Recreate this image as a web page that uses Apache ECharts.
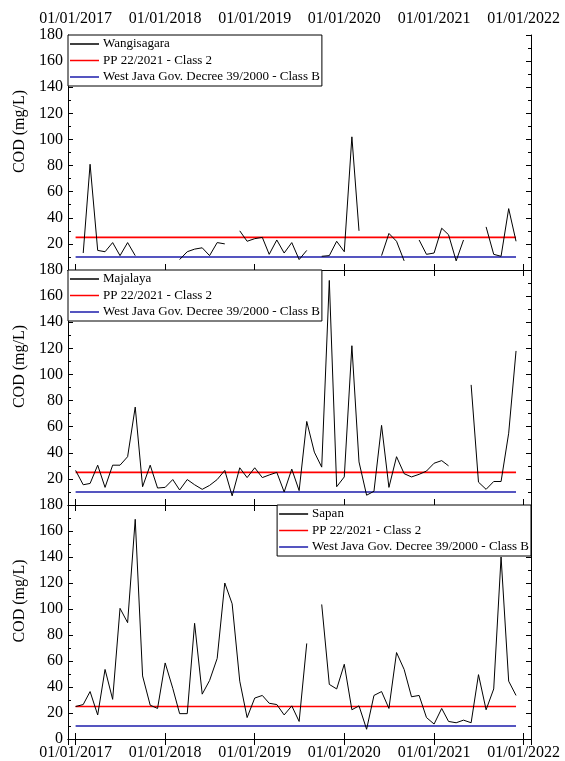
<!DOCTYPE html>
<html>
<head>
<meta charset="utf-8">
<script src="https://cdn.jsdelivr.net/npm/echarts@6/dist/echarts.min.js"></script>
<style>
  html, body { margin: 0; padding: 0; background: #fff; }
  #chart { width: 565px; height: 761px; }
</style>
</head>
<body>
<div id="chart"></div>
<script>
// Monthly sampling dates, Jan 2017 – Dec 2021
const months = [
  '2017-01-01','2017-02-01','2017-03-01','2017-04-01','2017-05-01','2017-06-01','2017-07-01','2017-08-01','2017-09-01','2017-10-01','2017-11-01','2017-12-01',
  '2018-01-01','2018-02-01','2018-03-01','2018-04-01','2018-05-01','2018-06-01','2018-07-01','2018-08-01','2018-09-01','2018-10-01','2018-11-01','2018-12-01',
  '2019-01-01','2019-02-01','2019-03-01','2019-04-01','2019-05-01','2019-06-01','2019-07-01','2019-08-01','2019-09-01','2019-10-01','2019-11-01','2019-12-01',
  '2020-01-01','2020-02-01','2020-03-01','2020-04-01','2020-05-01','2020-06-01','2020-07-01','2020-08-01','2020-09-01','2020-10-01','2020-11-01','2020-12-01',
  '2021-01-01','2021-02-01','2021-03-01','2021-04-01','2021-05-01','2021-06-01','2021-07-01','2021-08-01','2021-09-01','2021-10-01','2021-11-01','2021-12-01'
];

// COD (mg/L) per station; null = no sample
const wangisagara = [
  null, 13, 81, 15, 14, 21, 11, 21, 11, null, null, null,
  null, null, 8, 14, 16, 17, 11, 21, 20, null, 30, 22,
  24, 25, 12, 23, 13, 21, 8, 15, null, 10.5, 11, 22,
  14, 102, 30, null, null, 11, 28, 22, 7, null, 23, 12,
  13, 32, 27, 7, 23, null, null, 33, 12, 10.5, 47, 22
];
const majalaya = [
  26.5, 15.5, 16.5, 30.5, 13.5, 30.5, 30.5, 37, 75, 14, 30.5, 13,
  13.5, 19.5, 11.5, 19.5, 15.5, 12, 15, 19.5, 26.5, 7, 28.5, 21,
  28.5, 21, 23, 25, 10, 27.5, 11, 64, 40.5, 29, 172, 14,
  21.5, 122, 33, 7.5, 10.5, 61, 13.5, 37, 24, 21.5, 23.5, 26,
  32, 34, 30, null, null, 92, 17.5, 12, 18, 18, 55, 118
];
const sapan = [
  25, 26.5, 36.5, 18.5, 53.5, 30.5, 100.5, 89.5, 169, 48.5, 26, 23.5,
  58.5, 39, 19.5, 19.5, 89, 34.5, 45, 62, 120, 104, 44.5, 16.5,
  31.5, 33.5, 27.5, 26.5, 18.5, 25.5, 13.5, 73.5, null, 103.5, 42, 38.5,
  57.5, 22.5, 25.5, 7.5, 33.5, 36.5, 23.5, 66.5, 53.5, 32.5, 33.5, 16.5,
  11.5, 23.5, 13.5, 12.5, 14.5, 12.5, 49.5, 22.5, 38.5, 140, 44.5, 33.5
];

// Quality standards (mg/L) and the period they are drawn over
const stdPeriod = ['2017-01-01', '2021-12-01'];
const stdClass2 = 25;   // PP 22/2021 - Class 2
const stdClassB = 10;   // West Java Gov. Decree 39/2000 - Class B

const stations = ['Wangisagara', 'Majalaya', 'Sapan'];
const stationValues = [wangisagara, majalaya, sapan];
const nameClass2 = 'PP 22/2021 - Class 2';
const nameClassB = 'West Java Gov. Decree 39/2000 - Class B';

const FONT = 'Liberation Serif';
const gridTops = [35, 270, 505];
const gridH = 235;
const xMin = new Date(2016, 11, 1).getTime();
const xMax = new Date(2022, 0, 31).getTime();
const DAY = 86400000;

function pad2(n) { return (n < 10 ? '0' : '') + n; }
function fmtDate(v) {
  const d = new Date(v);
  return pad2(d.getDate()) + '/' + pad2(d.getMonth() + 1) + '/' + d.getFullYear();
}

const grids = [], xAxes = [], yAxes = [], series = [], legends = [];

gridTops.forEach((top, g) => {
  grids.push({ left: 68, right: 34, top: top, height: gridH, containLabel: false });

  ['bottom', 'top'].forEach(pos => {
    const showLabel = (pos === 'bottom' && g === 2) || (pos === 'top' && g === 0);
    xAxes.push({
      type: 'time', gridIndex: g, position: pos,
      min: xMin, max: xMax,
      minInterval: 365 * DAY, maxInterval: 366 * DAY,
      axisLine: { show: true, lineStyle: { color: '#000', width: 1 } },
      axisTick: { show: true, inside: true, length: 6, lineStyle: { color: '#000' } },
      minorTick: { show: false },
      splitLine: { show: false },
      axisLabel: {
        show: showLabel, color: '#000', fontFamily: FONT, fontSize: 16,
        margin: pos === 'top' ? 8 : 6,
        formatter: v => fmtDate(v)
      }
    });
  });

  ['left', 'right'].forEach(pos => {
    const y = {
      type: 'value', gridIndex: g, position: pos,
      min: 0, max: 180, interval: 20,
      axisLine: { show: true, lineStyle: { color: '#000', width: 1 } },
      axisTick: { show: true, inside: true, length: 5, lineStyle: { color: '#000' } },
      minorTick: { show: true, splitNumber: 2, length: 3, lineStyle: { color: '#000' } },
      splitLine: { show: false },
      axisLabel: {
        show: pos === 'left', color: '#000', fontFamily: FONT, fontSize: 16, margin: 5,
        showMinLabel: g === 2
      }
    };
    if (pos === 'left') {
      y.name = 'COD (mg/L)';
      y.nameLocation = 'middle';
      y.nameGap = 33;
      y.nameTextStyle = { color: '#000', fontFamily: FONT, fontSize: 16, padding: [0, 0, 0, 42] };
    }
    yAxes.push(y);
  });

  const xi = g * 2, yi = g * 2;
  series.push({
    name: stations[g], type: 'line', xAxisIndex: xi, yAxisIndex: yi,
    data: months.map((m, i) => [m, stationValues[g][i]]),
    symbol: 'none', color: '#000', connectNulls: false,
    lineStyle: { color: '#000', width: 1 }, z: 3
  });
  series.push({
    name: nameClass2, type: 'line', xAxisIndex: xi, yAxisIndex: yi,
    data: stdPeriod.map(d => [d, stdClass2]),
    symbol: 'none', color: '#ff0000',
    lineStyle: { color: '#ff0000', width: 1.6 }, z: 2
  });
  series.push({
    name: nameClassB, type: 'line', xAxisIndex: xi, yAxisIndex: yi,
    data: stdPeriod.map(d => [d, stdClassB]),
    symbol: 'none', color: '#1c1cab',
    lineStyle: { color: '#1c1cab', width: 1.6 }, z: 2
  });

  const lg = {
    orient: 'vertical', top: top,
    data: [stations[g], nameClass2, nameClassB],
    icon: 'rect', itemWidth: 29, itemHeight: 1.5, itemGap: 0.5,
    align: 'left',
    padding: [1, 2, 1, 2],
    borderColor: '#000', borderWidth: 1, backgroundColor: '#fff',
    selectedMode: false,
    textStyle: { color: '#000', fontFamily: FONT, fontSize: 13, lineHeight: 16, padding: [0, 0, 0, -1] }
  };
  if (g === 2) lg.right = 34; else lg.left = 68;
  legends.push(lg);
});

const chart = echarts.init(document.getElementById('chart'), null, { renderer: 'canvas' });
chart.setOption({
  animation: false,
  backgroundColor: '#fff',
  textStyle: { fontFamily: FONT },
  grid: grids,
  xAxis: xAxes,
  yAxis: yAxes,
  legend: legends,
  series: series
});
</script>
</body>
</html>
